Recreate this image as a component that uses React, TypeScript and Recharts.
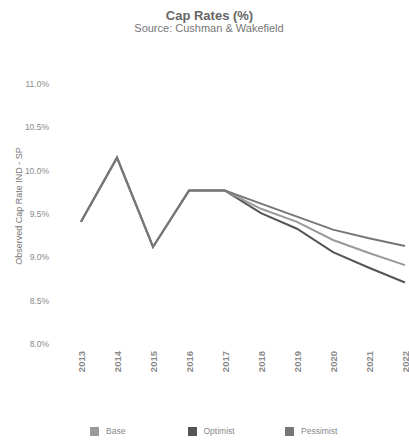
import React from "react";
import { LineChart, Line, XAxis, YAxis, Legend } from "recharts";

const years = ["2013", "2014", "2015", "2016", "2017", "2018", "2019", "2020", "2021", "2022"];
const base = [9.41, 10.15, 9.12, 9.77, 9.77, 9.56, 9.41, 9.2, 9.05, 8.91];
const optimist = [9.41, 10.15, 9.12, 9.77, 9.77, 9.51, 9.33, 9.06, 8.88, 8.71];
const pessimist = [9.41, 10.15, 9.12, 9.77, 9.77, 9.62, 9.47, 9.32, 9.22, 9.13];
const yTicks = [8, 8.5, 9, 9.5, 10, 10.5, 11];

const seriesNames = ["Base", "Optimist", "Pessimist"];
const seriesColors = ["#9a9a9a", "#555555", "#777777"];

const data = years.map((y, i) => ({
  year: y,
  Base: base[i],
  Optimist: optimist[i],
  Pessimist: pessimist[i],
}));

const FONT = "'Liberation Sans', Arial, sans-serif";

const XTick = (props: any) => {
  const { x, y, payload } = props;
  return (
    <text
      x={x}
      y={y}
      transform={`rotate(-90 ${x} ${y})`}
      textAnchor="end"
      dominantBaseline="central"
      fontSize={9.5}
      fontWeight="bold"
      fill="#8a8a8a"
      fontFamily={FONT}
    >
      {payload.value}
    </text>
  );
};

const YLabel = (props: any) => {
  const vb = props.viewBox || {};
  const cx = 19;
  const cy = (vb.y ?? 0) + (vb.height ?? 0) / 2 - 8;
  return (
    <text
      x={cx}
      y={cy}
      transform={`rotate(-90 ${cx} ${cy})`}
      textAnchor="middle"
      dominantBaseline="central"
      fontSize={9}
      fill="#777"
      fontFamily={FONT}
    >
      Observed Cap Rate IND - SP
    </text>
  );
};

const LegendContent = () => (
  <div style={{ position: "relative", height: 14, fontFamily: FONT }}>
    {seriesNames.map((n, i) => (
      <div
        key={n}
        style={{
          position: "absolute",
          left: 90 + i * 97.5,
          top: 0,
          display: "flex",
          alignItems: "center",
          height: 12,
        }}
      >
        <span
          style={{
            display: "inline-block",
            width: 9,
            height: 9,
            background: seriesColors[i],
            marginRight: 7,
          }}
        />
        <span style={{ fontSize: 8.5, color: "#888" }}>{n}</span>
      </div>
    ))}
  </div>
);

export default function App() {
  return (
    <div style={{ position: "absolute", left: 0, top: 0, width: 409, height: 444, background: "#fff" }}>
      <div
        style={{
          position: "absolute",
          top: 8,
          left: 0,
          width: 419,
          textAlign: "center",
          fontFamily: FONT,
          fontWeight: "bold",
          fontSize: 13,
          color: "#666",
          lineHeight: "15px",
        }}
      >
        Cap Rates (%)
      </div>
      <div
        style={{
          position: "absolute",
          top: 22,
          left: 0,
          width: 418,
          textAlign: "center",
          fontFamily: FONT,
          fontSize: 11,
          color: "#777",
          lineHeight: "13px",
        }}
      >
        Source: Cushman &amp; Wakefield
      </div>
      <LineChart
        width={409}
        height={444}
        data={data}
        margin={{ top: 84, right: 4, left: 0, bottom: 0 }}
      >
        <XAxis
          dataKey="year"
          axisLine={false}
          tickLine={false}
          tick={<XTick />}
          tickSize={0}
          tickMargin={7}
          height={86}
          interval={0}
          padding={{ left: 0, right: 0 }}
        />
        <YAxis
          domain={[8, 11]}
          ticks={yTicks}
          axisLine={false}
          tickLine={false}
          width={81}
          tickSize={0}
          tickMargin={32}
          tickFormatter={(v: number) => `${v.toFixed(1)}%`}
          tick={{ fontSize: 8.5, fill: "#8a8a8a", fontFamily: FONT }}
          label={<YLabel />}
        />
        <Legend
          verticalAlign="bottom"
          content={<LegendContent />}
          wrapperStyle={{ bottom: 5, left: 0, width: 409 }}
        />
        <Line dataKey="Optimist" stroke={seriesColors[1]} strokeWidth={2} dot={false} isAnimationActive={false} />
        <Line dataKey="Base" stroke={seriesColors[0]} strokeWidth={2} dot={false} isAnimationActive={false} />
        <Line dataKey="Pessimist" stroke={seriesColors[2]} strokeWidth={2} dot={false} isAnimationActive={false} />
      </LineChart>
    </div>
  );
}
